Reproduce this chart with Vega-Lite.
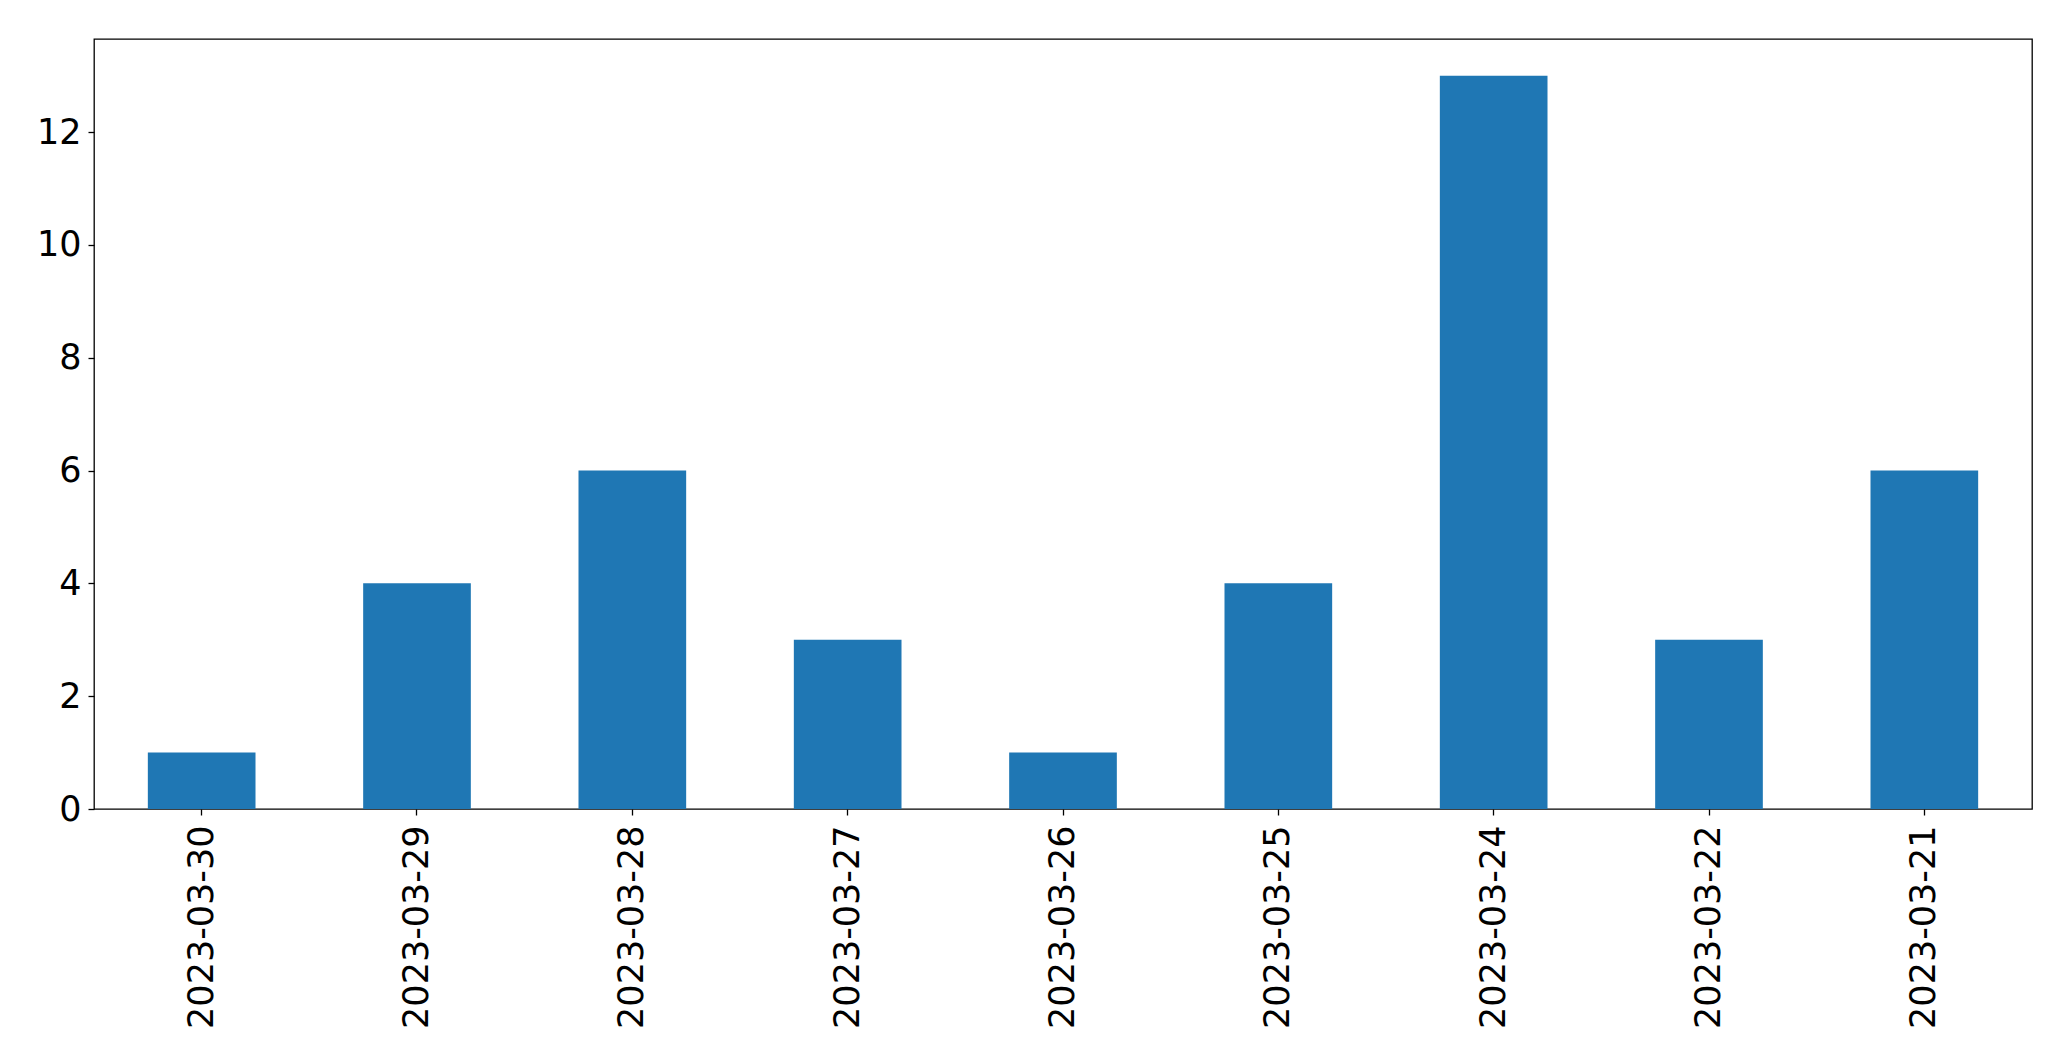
{
  "$schema": "https://vega.github.io/schema/vega-lite/v6.json",
  "autosize": {"type": "none"},
  "padding": {"left": 94, "top": 39, "right": 39, "bottom": 252},
  "width": 1938,
  "height": 770,
  "background": "white",
  "config": {
    "view": {"stroke": "black", "strokeWidth": 1.3},
    "axis": {
      "grid": false,
      "domain": false,
      "tickColor": "black",
      "tickWidth": 1.3,
      "tickSize": 6,
      "labelFont": "DejaVu Sans",
      "labelFontSize": 35,
      "labelColor": "black",
      "labelLimit": 0,
      "title": null
    }
  },
  "data": {
    "values": [
      {"date": "2023-03-30", "count": 1},
      {"date": "2023-03-29", "count": 4},
      {"date": "2023-03-28", "count": 6},
      {"date": "2023-03-27", "count": 3},
      {"date": "2023-03-26", "count": 1},
      {"date": "2023-03-25", "count": 4},
      {"date": "2023-03-24", "count": 13},
      {"date": "2023-03-22", "count": 3},
      {"date": "2023-03-21", "count": 6}
    ]
  },
  "mark": {"type": "bar", "color": "#1f77b4"},
  "encoding": {
    "x": {
      "field": "date",
      "type": "nominal",
      "sort": null,
      "scale": {"paddingInner": 0.5, "paddingOuter": 0.25},
      "axis": {"labelAngle": -90, "labelPadding": 10, "labelAlign": "right", "labelBaseline": "middle", "labelLimit": 0}
    },
    "y": {
      "field": "count",
      "type": "quantitative",
      "scale": {"domain": [0, 13.65], "nice": false},
      "axis": {"values": [0, 2, 4, 6, 8, 10, 12], "labelPadding": 7}
    }
  }
}
